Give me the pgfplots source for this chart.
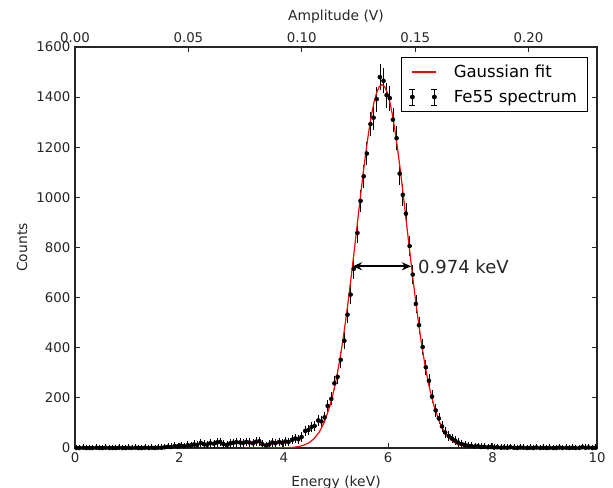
\documentclass[border=0pt]{standalone}
\usepackage{fontspec}
\setmainfont{DejaVu Sans}
\usepackage{pgfplots}
\pgfplotsset{compat=1.18}
\usepackage{pgfplotstable}
\usetikzlibrary{arrows.meta}

\pgfplotstableread{
x y e
0.03 0 0
0.09 0 0
0.16 1 1
0.22 0 0
0.28 0 0
0.34 0 0
0.41 1 1
0.47 0 0
0.53 0 0
0.59 1 1
0.66 0 0
0.72 0 0
0.78 0 0
0.84 1 1
0.91 0 0
0.97 0 0
1.03 1 1
1.09 0 0
1.16 1 1
1.22 0 0
1.28 0 0
1.34 1 1
1.41 0 0
1.47 1 1
1.53 0 0
1.59 1 1
1.66 1 1
1.72 3 1.7
1.78 5 2.2
1.84 4 2
1.91 8 2.8
1.97 6 2.4
2.03 9 3
2.09 7 2.6
2.16 11 3.3
2.22 10 3.2
2.28 14 3.7
2.34 12 3.5
2.41 20 4.5
2.47 15 3.9
2.53 13 3.6
2.59 19 4.4
2.66 17 4.1
2.72 22 4.7
2.78 24 4.9
2.84 16 4
2.91 12 3.5
2.97 18 4.2
3.03 21 4.6
3.09 23 4.8
3.16 22 4.7
3.22 20 4.5
3.28 24 4.9
3.34 22 4.7
3.41 19 4.4
3.47 25 5
3.53 27 5.2
3.59 15 3.9
3.66 10 3.2
3.72 14 3.7
3.78 22 4.7
3.84 19 4.4
3.91 24 4.9
3.97 21 4.6
4.03 26 5.1
4.09 24 4.9
4.16 33 5.7
4.22 38 6.2
4.28 35 5.9
4.34 44 6.6
4.41 68 8.2
4.47 72 8.5
4.53 84 9.2
4.59 88 9.4
4.66 110 10.5
4.72 106 10.3
4.78 122 11
4.84 168 13
4.91 196 14
4.97 258 16
5.03 284 16.9
5.09 352 18.8
5.16 428 20.7
5.22 532 23
5.28 612 24.7
5.34 715 26.7
5.41 858 29.3
5.47 986 31.4
5.53 1084 32.9
5.59 1175 34.3
5.66 1292 35.9
5.72 1318 36.3
5.78 1392 37.3
5.84 1480 38.5
5.91 1465 38.3
5.97 1408 37.5
6.03 1396 37.4
6.09 1310 36.2
6.16 1236 35.2
6.22 1095 33.1
6.28 1010 31.8
6.34 935 30.6
6.41 806 28.4
6.47 692 26.3
6.53 575 24
6.59 490 22.1
6.66 403 20.1
6.72 322 17.9
6.78 268 16.4
6.84 205 14.3
6.91 150 12.2
6.97 118 10.9
7.03 86 9.3
7.09 62 7.9
7.16 48 6.9
7.22 38 6.2
7.28 30 5.5
7.34 22 4.7
7.41 16 4
7.47 12 3.5
7.53 9 3
7.59 8 2.8
7.66 6 2.4
7.72 7 2.6
7.78 4 2
7.84 5 2.2
7.91 3 1.7
7.97 4 2
8.03 2 1.4
8.09 3 1.7
8.16 1 1
8.22 2 1.4
8.28 1 1
8.34 3 1.7
8.41 1 1
8.47 0 0
8.53 2 1.4
8.59 1 1
8.66 0 0
8.72 1 1
8.78 0 0
8.84 2 1.4
8.91 0 0
8.97 1 1
9.03 0 0
9.09 1 1
9.16 0 0
9.22 0 0
9.28 2 1.4
9.34 0 0
9.41 1 1
9.47 0 0
9.53 1 1
9.59 0 0
9.66 0 0
9.72 3 1.7
9.78 1 1
9.84 2 1.4
9.91 0 0
9.97 1 1
}\spectrum

\begin{document}
\begin{tikzpicture}
\begin{axis}[
  name=main,
  scale only axis, width=391.5pt, height=300.75pt,
  xmin=0, xmax=10, ymin=0, ymax=1600,
  xtick={0,2,4,6,8,10}, ytick={0,200,...,1600},
  xtick pos=left, ytick pos=both,
  tick align=inside,
  major tick length=3.5pt,
  axis line style={black!85, line width=0.8pt},
  tick style={black!85, line width=0.6pt},
  tick label style={font=\fontsize{10}{12}\selectfont, text=black!85},
  label style={font=\fontsize{10.4}{12}\selectfont, text=black!85},
  xlabel={Energy (keV)}, ylabel={Counts},
  xlabel style={yshift=-3pt},
  /pgf/number format/assume math mode=true,
  /pgf/number format/1000 sep={},
  scaled y ticks=false,
  legend style={at={(0.983,0.975)}, anchor=north east, draw=black, line width=0.6pt,
    font=\fontsize{12.4}{14}\selectfont, inner xsep=6pt, inner ysep=3.5pt, row sep=4pt},
  legend cell align=left,
]
\addplot[only marks, black, mark=*, mark size=1.5pt, forget plot,
  error bars/.cd, y dir=both, y explicit,
  error bar style={line width=0.5pt, black},
  error mark options={black, mark size=2.3pt, line width=0.5pt}]
  table[x=x, y=y, y error=e]{\spectrum};
\addplot[red, line width=0.9pt, forget plot]
  coordinates {
  (3.22,0) (3.48,0) (3.68,0) (3.88,0.3) (4.08,1.3) (4.18,2.7) (4.28,5.6) (4.38,11.0)
  (4.48,20.6) (4.58,37) (4.68,63.7) (4.78,105) (4.88,166) (4.93,205) (4.98,250)
  (5.03,302) (5.08,362) (5.13,428) (5.18,501) (5.23,580) (5.28,664) (5.33,752)
  (5.38,843) (5.43,934) (5.48,1025) (5.53,1112) (5.58,1193) (5.63,1266) (5.68,1330)
  (5.73,1381) (5.78,1419) (5.83,1442) (5.88,1450) (5.93,1442) (5.98,1419) (6.03,1381)
  (6.08,1330) (6.13,1266) (6.18,1193) (6.23,1112) (6.28,1025) (6.33,934) (6.38,843)
  (6.43,752) (6.48,664) (6.53,580) (6.58,501) (6.63,428) (6.68,362) (6.73,302)
  (6.78,250) (6.83,205) (6.88,166) (6.98,105) (7.08,63.7) (7.18,37) (7.28,20.6)
  (7.38,11.0) (7.48,5.6) (7.58,2.7) (7.68,1.3) (7.88,0.3) (8.08,0) (8.54,0)
  };
\addlegendimage{red, line width=1pt, legend image code/.code={\draw[red, line width=1pt] (0pt,0pt)--(18pt,0pt);}}
\addlegendentry{\hspace*{10pt}Gaussian fit}
\addlegendimage{black, legend image code/.code={
  \draw[black, line width=0.5pt] (0pt,-6pt)--(0pt,6pt) (-2.3pt,-6pt)--(2.3pt,-6pt) (-2.3pt,6pt)--(2.3pt,6pt);
  \fill[black] (0pt,0pt) circle (1.5pt);
  \draw[black, line width=0.5pt] (16.5pt,-6pt)--(16.5pt,6pt) (14.2pt,-6pt)--(18.8pt,-6pt) (14.2pt,6pt)--(18.8pt,6pt);
  \fill[black] (16.5pt,0pt) circle (1.5pt);
}}
\addlegendentry{\hspace*{10pt}Fe55 spectrum}
\draw[{Stealth[length=7pt,width=6pt]}-{Stealth[length=7pt,width=6pt]}, line width=1.5pt, black]
  (axis cs:5.32,725) -- (axis cs:6.44,725);
\node[anchor=west, font=\fontsize{13.5}{16}\selectfont, text=black!85, inner sep=0pt] at (axis cs:6.57,722) {0.974 keV};
\end{axis}
\begin{axis}[
  scale only axis, width=391.5pt, height=300.75pt,
  xmin=0, xmax=0.2302, ymin=0, ymax=1600,
  axis x line*=top, hide y axis,
  xtick={0,0.05,0.10,0.15,0.20},
  tick align=inside,
  major tick length=3.5pt,
  axis line style={black!85, line width=0.8pt},
  tick style={black!85, line width=0.6pt},
  tick label style={font=\fontsize{10}{12}\selectfont, text=black!85},
  label style={font=\fontsize{10.4}{12}\selectfont, text=black!85},
  xticklabel style={/pgf/number format/.cd, fixed, fixed zerofill, precision=2},
  /pgf/number format/assume math mode=true,
  scaled x ticks=false,
  xlabel={Amplitude (V)},
]
\end{axis}
\pgfresetboundingbox
\path[use as bounding box] ([shift={(-56.25pt,-30pt)}]main.south west) rectangle ([shift={(12pt,35.25pt)}]main.north east);
\end{tikzpicture}
\end{document}
